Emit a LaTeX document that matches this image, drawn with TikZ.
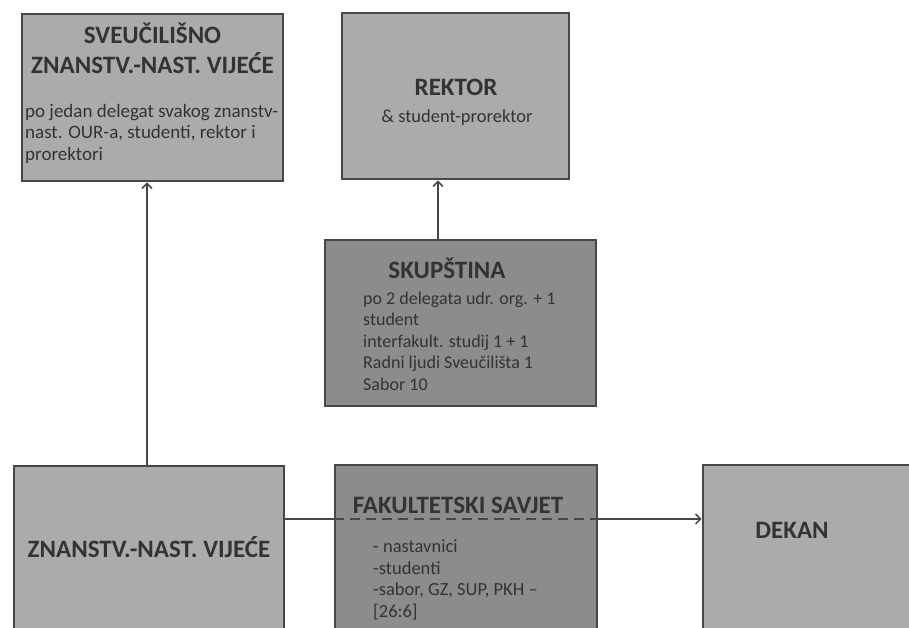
\documentclass[tikz,border=0pt]{standalone}
\usepackage{fontspec}
\setmainfont{Carlito}
\usetikzlibrary{arrows.meta}
\definecolor{boxlight}{HTML}{ABABAB}
\definecolor{boxdark}{HTML}{8C8C8C}
\definecolor{boxline}{HTML}{474747}
\definecolor{txt}{HTML}{333333}
\tikzset{
  box/.style={draw=boxline, line width=2.8pt, fill=boxlight, inner sep=0pt},
  darkbox/.style={box, fill=boxdark},
  title/.style={font=\bfseries\fontsize{25}{30}\selectfont, text=txt, anchor=base, align=center, inner sep=0pt},
  sub/.style={font=\fontsize{18.5}{21}\selectfont, text=txt, anchor=base, inner sep=0pt},
  body/.style={font=\fontsize{#1}{21.5}\selectfont, text=txt, anchor=base west, align=left, inner sep=0pt},
  link/.style={line width=1.5pt, draw=boxline}
}
\begin{document}
\begin{tikzpicture}[x=1pt,y=-1pt,>={Straight Barb[length=5pt,width=10pt]}]
    \clip (0,0) rectangle (909,627);
    \fill[white] (0,0) rectangle (909,627);

    % the boxes
    \node[box, minimum width=261pt, minimum height=167pt] (svv) at (152.5,97.5) {};
    \node[box, minimum width=227pt, minimum height=166pt] (rektor) at (455.5,96) {};
    \node[darkbox, minimum width=271pt, minimum height=166pt] (skup) at (460.5,323) {};
    \node[box, minimum width=270pt, minimum height=180pt] (znv) at (149,556) {};
    \node[darkbox, minimum width=262pt, minimum height=180pt] (fs) at (466,555) {};
    \node[box, minimum width=240pt, minimum height=180pt] (dekan) at (823,555) {};

    % the texts in the boxes (base = last line)
    \node[title] (svvtitle) at (152.5,73) {SVEUČILIŠNO\\ZNANSTV.-NAST. VIJEĆE};
    \node[body=19] (svvtext) at (25,160) {po jedan delegat svakog znanstv-\\nast. OUR-a, studenti, rektor i\\prorektori};
    \node[title] (rektortitle) at (456,95) {REKTOR};
    \node[sub] (rektorsub) at (457,122) {\& student-prorektor};
    \node[title] (skuptitle) at (447,278) {SKUPŠTINA};
    \node[body=18] (skuptext) at (363,390) {po 2 delegata udr. org. + 1\\student\\interfakult. studij 1 + 1\\Radni ljudi Sveučilišta 1\\Sabor 10};
    \node[title] (znvtitle) at (149,557) {ZNANSTV.-NAST. VIJEĆE};
    \node[title] (fstitle) at (458,513) {FAKULTETSKI SAVJET};
    \node[body=18.5] (fstext) at (373,617) {- nastavnici\\-studenti\\-sabor, GZ, SUP, PKH --\\{[26:6]}};
    \node[title] (dekantitle) at (792,538) {DEKAN};

    % the connectors
    \coordinate (cut) at (0,519);
    \draw[link,->] ([xshift=-2pt]znv.north) -- ([xshift=-2pt]znv.north |- svv.south);
    \draw[link,->] ([xshift=-22.5pt]skup.north) -- ([xshift=-22.5pt]skup.north |- rektor.south);
    \draw[link] (znv.east |- cut) -- (fs.west |- cut);
    \draw[link,dash pattern=on 10pt off 6pt] (fs.west |- cut) -- (fs.east |- cut);
    \draw[link,->] (fs.east |- cut) -- (dekan.west |- cut);
\end{tikzpicture}
\end{document}
